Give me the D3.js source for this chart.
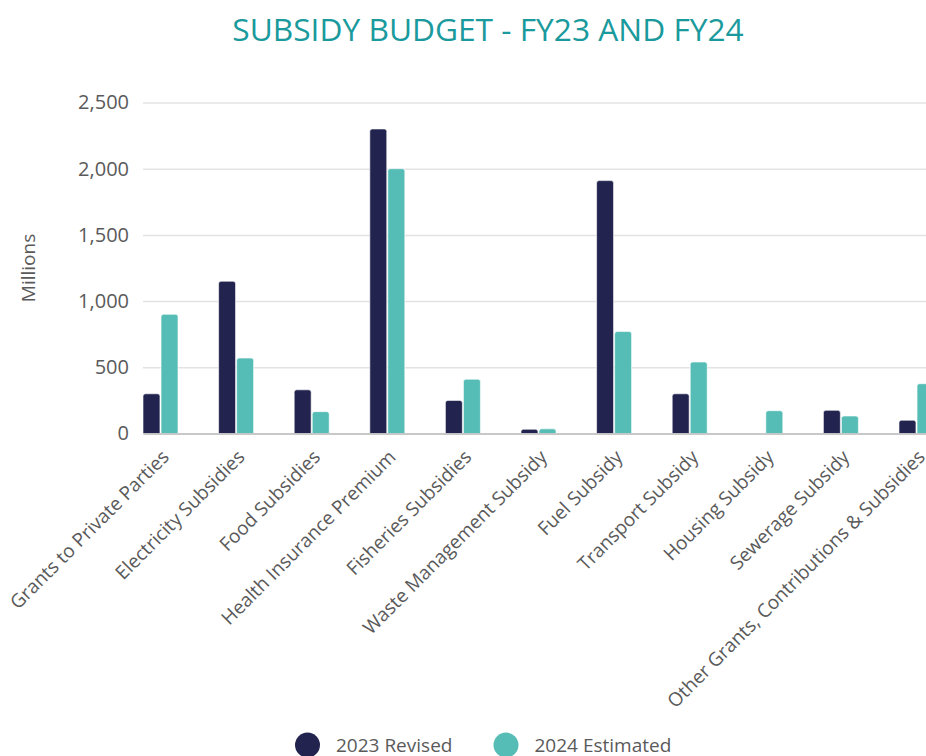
<!DOCTYPE html>
<html>
<head>
<meta charset="utf-8">
<script src="https://cdn.jsdelivr.net/npm/d3@7"></script>
<style>
  body { margin: 0; background: #fff; overflow: hidden; }
  svg { display: block; font-family: "Open Sans", sans-serif; }
</style>
</head>
<body>
<div id="wrapper"></div>
<script>
const categories = [
  "Grants to Private Parties",
  "Electricity Subsidies",
  "Food Subsidies",
  "Health Insurance Premium",
  "Fisheries Subsidies",
  "Waste Management Subsidy",
  "Fuel Subsidy",
  "Transport Subsidy",
  "Housing Subsidy",
  "Sewerage Subsidy",
  "Other Grants, Contributions & Subsidies"
]
const seriesNames = ["2023 Revised", "2024 Estimated"]
const revised2023 = [300, 1150, 330, 2300, 250, 32, 1910, 300, 0, 175, 100]
const estimated2024 = [900, 570, 165, 2000, 410, 35, 770, 540, 172, 132, 376]
const yTicks = [0, 500, 1000, 1500, 2000, 2500]

function drawChart() {
  const dims = {
    width: 926,
    height: 756,
    margin: { top: 102.5, left: 143, bottom: 433.5 },
    plotRight: 934,
  }

  const colors = ["#22244f", "#55bdb5"]
  const textColor = "#5a5a5a"

  const data = categories.map((c, i) => ({
    category: c,
    values: [revised2023[i], estimated2024[i]],
  }))

  const svg = d3.select("#wrapper")
    .append("svg")
    .attr("width", dims.width)
    .attr("height", dims.height)

  // scales
  const xScale = d3.scaleBand()
    .domain(categories)
    .range([dims.margin.left, dims.plotRight])
    .paddingInner(0.537)
    .paddingOuter(0)

  const xSub = d3.scaleBand()
    .domain(d3.range(seriesNames.length))
    .range([0, xScale.bandwidth()])
    .paddingInner(0.06)

  const yScale = d3.scaleLinear()
    .domain([0, 2500])
    .range([dims.margin.bottom, dims.margin.top])

  // title
  svg.append("text")
    .attr("x", 488)
    .attr("y", 41)
    .attr("text-anchor", "middle")
    .attr("fill", "#1a9a9c")
    .style("font-size", "31.7px")
    .text("SUBSIDY BUDGET - FY23 AND FY24")

  // grid + y axis
  const yAxis = svg.append("g")
    .attr("transform", `translate(${dims.margin.left},0)`)
    .call(d3.axisLeft(yScale)
      .tickValues(yTicks)
      .tickSize(-(dims.plotRight - dims.margin.left))
      .tickPadding(14)
      .tickFormat(d3.format(",")))

  yAxis.select(".domain").remove()
  yAxis.selectAll(".tick line")
    .attr("stroke", "#e3e3e3")
    .attr("stroke-width", 1.5)
  yAxis.selectAll(".tick text")
    .attr("fill", textColor)
    .style("font-size", "20px")
    .style("font-family", "'Open Sans', sans-serif")

  svg.append("text")
    .attr("transform", `translate(35, ${(dims.margin.top + dims.margin.bottom) / 2}) rotate(-90)`)
    .attr("text-anchor", "middle")
    .attr("fill", textColor)
    .style("font-size", "19px")
    .text("Millions")

  // bars
  const r = 2.5
  const barPath = (x, y, w, h) => {
    if (h <= 0) return ""
    const rr = Math.min(r, h, w / 2)
    return `M${x},${y + h}V${y + rr}Q${x},${y} ${x + rr},${y}H${x + w - rr}Q${x + w},${y} ${x + w},${y + rr}V${y + h}Z`
  }

  const groups = svg.append("g")
    .selectAll("g")
    .data(data)
    .join("g")
    .attr("transform", d => `translate(${xScale(d.category)},0)`)

  groups.selectAll("path")
    .data(d => d.values.map((v, i) => ({ v, i })))
    .join("path")
    .attr("d", d => barPath(
      xSub(d.i),
      yScale(d.v),
      xSub.bandwidth(),
      yScale(0) - yScale(d.v)
    ))
    .attr("fill", d => colors[d.i])
    .attr("stroke", "#ffffff")
    .attr("stroke-width", 0.6)

  // x axis
  const xAxis = svg.append("g")
    .attr("transform", `translate(0,${dims.margin.bottom})`)
    .call(d3.axisBottom(xScale).tickSize(0).tickPadding(0))

  xAxis.select(".domain")
    .attr("stroke", "#bdbdbd")
    .attr("stroke-width", 1.5)

  xAxis.selectAll(".tick text")
    .attr("text-anchor", "end")
    .attr("fill", textColor)
    .attr("dy", "0.35em")
    .attr("transform", "translate(5,20) rotate(-45)")
    .style("font-size", "19px")
    .style("font-family", "'Open Sans', sans-serif")

  // legend
  const legendX = [307.5, 506]
  const legend = svg.append("g")
    .selectAll("g")
    .data(seriesNames)
    .join("g")
    .attr("transform", (d, i) => `translate(${legendX[i]},745)`)

  legend.append("circle")
    .attr("r", 12.5)
    .attr("fill", (d, i) => colors[i])

  legend.append("text")
    .attr("x", 28.5)
    .attr("y", 6.5)
    .attr("fill", textColor)
    .style("font-size", "19px")
    .text(d => d)
}

drawChart()
</script>
</body>
</html>
